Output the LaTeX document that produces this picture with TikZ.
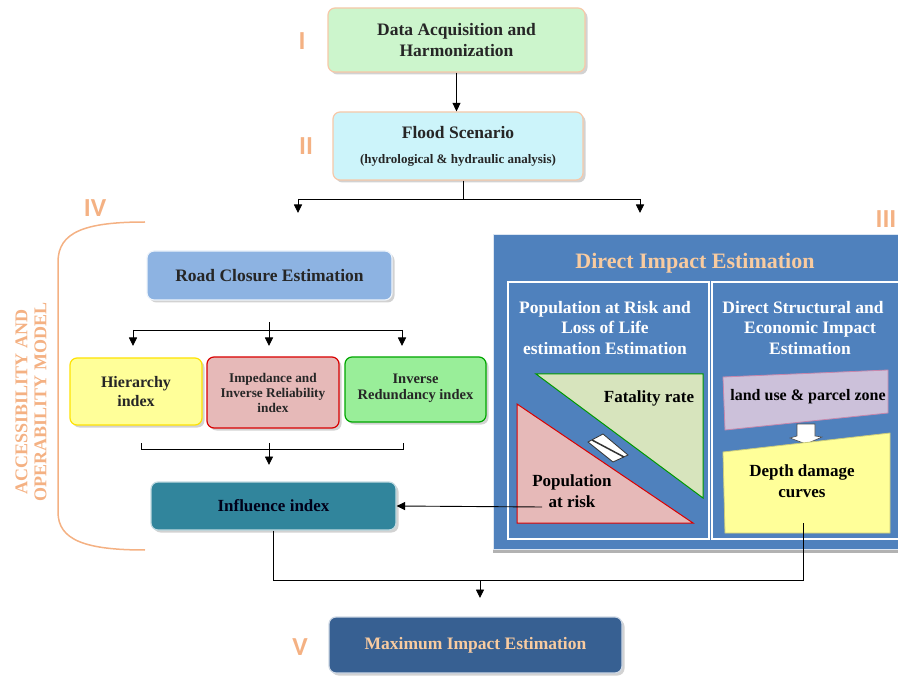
\documentclass[tikz,border=0pt]{standalone}
\usepackage{fontspec}
\setmainfont{Liberation Serif}
\newfontfamily\numfont{Carlito}
\usetikzlibrary{shadows,arrows.meta}

\definecolor{stagecol}{HTML}{F4B183}
\definecolor{acqgreen}{HTML}{CCF5CC}
\definecolor{floodcyan}{HTML}{CCF4FA}
\definecolor{roadblue}{HTML}{8DB3E2}
\definecolor{hieryellow}{HTML}{FFFF99}
\definecolor{imppink}{HTML}{E6B9B8}
\definecolor{redgreen}{HTML}{99EE99}
\definecolor{inflteal}{HTML}{31859C}
\definecolor{maxblue}{HTML}{376092}
\definecolor{panelblue}{HTML}{4F81BD}
\definecolor{fatgreen}{HTML}{D7E4BD}
\definecolor{landlilac}{HTML}{CCC1DA}
\definecolor{peach}{HTML}{F8CBA0}

\def\fs#1#2{\fontsize{#1}{#2}\selectfont}

\tikzset{
  stagebox/.style={draw=#1, line width=1.2pt, rounded corners=7pt, align=center,
        text=black!85,
        drop shadow={shadow xshift=2.5pt, shadow yshift=-2.5pt, fill=black!35}},
  stagenum/.style={text=stagecol, font=\numfont\bfseries\fs{26}{28}},
  paneltext/.style={text=white, align=center, font=\bfseries\fs{17.5}{20.5}},
  flow/.style={->, line width=0.9pt},
}

\begin{document}
\begin{tikzpicture}[x=1pt, y=-1pt, >={Triangle[length=8.5pt,width=8pt]}, line width=0.9pt]
\useasboundingbox (0,0) rectangle (898,679);

% stages I and II
\node[stagebox=stagecol!70, fill=acqgreen, minimum width=257, minimum height=64,
      font=\bfseries\fs{17.5}{21}] (acq) at (456.5,40)
  {Data Acquisition and\\ Harmonization};
\node[stagebox=stagecol!70, fill=floodcyan, minimum width=250, minimum height=68,
      font=\bfseries\fs{17.5}{25}] (flood) at (458,146)
  {Flood Scenario\\ {\fs{13}{14}(hydrological \& hydraulic analysis)}};
\node[stagenum] (n1) at (302,41) {I};
\node[stagenum] (n2) at (306,146) {II};
\node[stagenum] (n4) at (95,208) {IV};
\node[stagenum] (n3) at (886,219) {III};
\node[stagenum] (n5) at (300,647) {V};

\draw[flow] (acq.south) -- (acq.south |- flood.north);
\coordinate (split) at (463,199);
\coordinate (toroad) at (298,213);
\coordinate (toimpact) at (640,213);
\draw (flood.south -| split) -- (split);
\draw (toroad |- split) -- (toimpact |- split);
\draw[flow] (toroad |- split) -- (toroad);
\draw[flow] (toimpact |- split) -- (toimpact);

% accessibility and operability model
\draw[stagecol, line width=1.5pt] (145,222) .. controls (85,222) and (58,232) .. (58,262)
  -- (58,512) .. controls (58,540) and (85,550) .. (145,550);
\node[rotate=90, text=stagecol, align=center, font=\bfseries\fs{18}{19}] (aom) at (31,402)
  {ACCESSIBILITY AND\\ OPERABILITY MODEL};

\node[stagebox=white!85!roadblue, fill=roadblue, minimum width=245, minimum height=49,
      font=\bfseries\fs{17.5}{20}] (road) at (269.5,275.5) {Road Closure Estimation};
\node[stagebox=yellow!85!orange, fill=hieryellow, minimum width=132, minimum height=67,
      font=\bfseries\fs{16}{19}] (hier) at (136,391.5) {Hierarchy\\ index};
\node[stagebox=red!85!black, fill=imppink, minimum width=132, minimum height=71,
      font=\bfseries\fs{13.3}{15}] (imp) at (273,392.5) {Impedance and\\ Inverse Reliability\\ index};
\node[stagebox=green!65!black, fill=redgreen, minimum width=141, minimum height=65,
      font=\bfseries\fs{14.5}{16}] (inv) at (415.5,389.5) {Inverse\\ Redundancy index\\[-10pt]};
\node[stagebox=white!70!inflteal, fill=inflteal, text=black!90!blue, minimum width=245, minimum height=48,
      font=\bfseries\fs{17}{20}] (infl) at (273.5,506) {Influence index};

\coordinate (rtop) at (269,322);
\coordinate (rbar) at (269,330);
\draw (rtop) -- (rbar);
\draw (133,330) -- (402,330);
\foreach \x in {133,269,402}
  \draw[flow] (\x,330) -- (\x,346);
\draw (141,443) -- (141,449) -- (403,449) -- (403,443);
\coordinate (bbar) at (269,443);
\draw[flow] (bbar) -- (269,465);

% direct impact estimation
\fill[black!30] (493,536) rectangle (905,553);
\node[fill=panelblue, draw=white!80!panelblue, line width=1pt, anchor=north west,
      minimum width=412, minimum height=315, inner sep=0pt] (impact) at (493,234) {};
\node[text=peach, font=\bfseries\fs{22}{24}] (title) at (695,263) {Direct Impact Estimation};
\draw[white, line width=1.8pt] (508,282) rectangle (709,539);
\draw[white, line width=1.8pt] (712,282) rectangle (910,539);
\node[paneltext] (polhead) at (605,328) {Population at Risk and\\ Loss of Life\\ estimation Estimation};
\node[paneltext] (dsehead) at (803,328) {Direct Structural and\\ \hspace*{0.8em}Economic Impact\\ \hspace*{0.8em}Estimation};

\filldraw[fill=fatgreen, draw=green!60!black, line width=1pt] (536,374) -- (703,374) -- (703,498) -- cycle;
\filldraw[fill=imppink, draw=red!85!black, line width=1pt] (517,404) -- (517,523) -- (693,523) -- cycle;
\node[font=\bfseries\fs{17}{20}] (fatal) at (649,398) {Fatality rate};
\node[font=\bfseries\fs{17}{20.5}, align=center] (parisk) at (572,491) {Population\\ at risk};
\filldraw[fill=white, draw=black!80, line width=0.8pt] (588,442) -- (603,434) -- (628,455) -- (613,462) -- cycle;
\draw[black!80, line width=1.5pt] (592,440) -- (624,457);

\filldraw[fill=landlilac, draw=landlilac!70!purple, line width=0.8pt] (723,377) -- (888,370) -- (888,413) -- (725,430) -- cycle;
\node[font=\bfseries\fs{16}{18}] (land) at (808,397) {land use \& parcel zone};
\filldraw[fill=white, draw=black!70, line width=0.6pt] (797,424) -- (815,424) -- (815,436) -- (822,437)
  -- (806,444) -- (790,438) -- (797,436) -- cycle;
\filldraw[fill=hieryellow, draw=hieryellow!80!black, line width=0.8pt] (723,452) -- (890,433) -- (890,533) -- (725,533) -- cycle;
\node[font=\bfseries\fs{17}{21.5}, align=center] (ddc) at (802,481) {Depth damage\\ curves};

\coordinate (parfrom) at (542,507);
\draw[flow] (parfrom) -- (infl.east);

% maximum impact
\node[stagebox=white!75!maxblue, fill=maxblue, text=peach, minimum width=293, minimum height=56,
      font=\bfseries\fs{17.5}{20}] (maxi) at (475.5,645) {Maximum Impact Estimation};
\coordinate (ddcfoot) at (803,523);
\draw (infl.south) -- ++(0,50) -| (ddcfoot);
\coordinate (merge) at (480,580);
\draw[flow] (merge) -- (480,598);
\end{tikzpicture}
\end{document}
